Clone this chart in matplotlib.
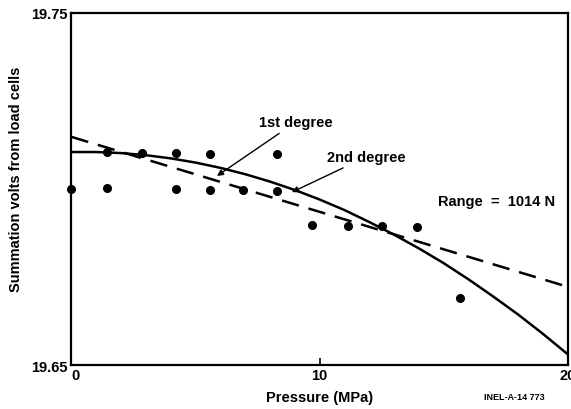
import matplotlib.pyplot as plt

plt.rcParams['font.family'] = ['Liberation Sans', 'DejaVu Sans']
plt.rcParams['font.weight'] = 'bold'
plt.rcParams['axes.labelweight'] = 'bold'

# measured points (pressure MPa, summation volts)
pressure = [0, 1.43, 1.43, 2.84, 4.21, 4.21, 5.58, 5.58, 6.91, 8.28, 8.28,
            9.69, 11.14, 12.5, 13.9, 15.67]
volts = [19.7000, 19.7003, 19.7105, 19.7102, 19.7102, 19.7000, 19.7100, 19.6997,
         19.6997, 19.7100, 19.6994, 19.6898, 19.6895, 19.6895, 19.6892, 19.6690]

# solid curve
solid_x = [0, 1, 2, 3, 4, 5, 6, 7, 8, 9, 10, 11, 12, 13, 14, 15, 16, 17, 18, 19, 20]
solid_y = [19.7105, 19.7105, 19.7102, 19.7096, 19.7087, 19.7075, 19.7060, 19.7042,
           19.7021, 19.6997, 19.6970, 19.6940, 19.6906, 19.6870, 19.6831, 19.6789,
           19.6743, 19.6694, 19.6643, 19.6588, 19.6530]

# dashed line
dash_x = [0, 20]
dash_y = [19.7148, 19.6722]

fig = plt.figure(figsize=(5.71, 4.10), dpi=100)
ax = fig.add_axes([0.1252, 0.1073, 0.8695, 0.8586])

ax.plot(solid_x, solid_y, color='black', lw=1.8)
ax.plot(dash_x, dash_y, color='black', lw=1.8, dashes=(7, 4))
ax.plot(pressure, volts, 'o', color='black', ms=5.5, clip_on=False)

ax.set_xlim(0, 20)
ax.set_ylim(19.65, 19.75)
for s in ax.spines.values():
    s.set_linewidth(1.6)

ax.set_xticks([0, 10, 20])
ax.set_xticklabels(['0', '10', '20'], fontsize=10.5)
ax.get_xticklabels()[0].set_ha('left')
ax.set_yticks([19.65, 19.75])
ax.set_yticklabels(['19.65', '19.75'], fontsize=10.5)
ax.tick_params(axis='x', direction='in', length=5, width=1.2, pad=2)
ax.tick_params(axis='y', length=0, pad=3)

ax.set_xlabel('Pressure (MPa)', fontsize=10.5, labelpad=6)
ax.set_ylabel('Summation volts from load cells', fontsize=10.5)
ax.yaxis.set_label_coords(-0.097, 0.53)

ax.annotate('1st degree', xy=(5.86, 19.7037), xytext=(7.55, 19.7190),
            fontsize=10.5, va='center',
            arrowprops=dict(arrowstyle='-|>', color='black', lw=1.0,
                            shrinkA=2, shrinkB=0, mutation_scale=9))
ax.annotate('2nd degree', xy=(8.88, 19.6991), xytext=(10.29, 19.7091),
            fontsize=10.5, va='center',
            arrowprops=dict(arrowstyle='-|>', color='black', lw=1.0,
                            shrinkA=2, shrinkB=0, mutation_scale=9))
ax.text(14.76, 19.6966, 'Range  =  1014 N', fontsize=10.5, va='center')

fig.text(0.848, 0.03, 'INEL-A-14 773', fontsize=6.5, va='center')

fig.savefig('out.png', dpi=100)
